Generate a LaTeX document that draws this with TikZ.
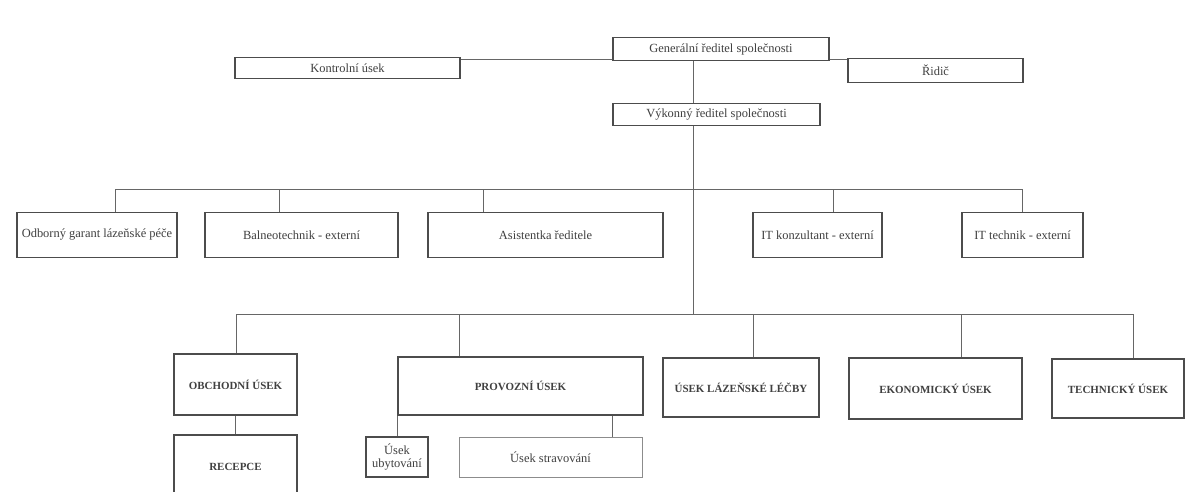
\documentclass[tikz,border=0pt]{standalone}
\usepackage{fontspec}
\setmainfont{Liberation Serif}
\begin{document}
\begin{tikzpicture}[x=1bp,y=-1bp,
  box/.style={draw=black!70, line width=1.6bp, rectangle, inner sep=0pt, align=center,
    text=black!75, font=\fontsize{12.5}{13}\selectfont},
  bigbox/.style={box, line width=2bp, font=\fontsize{11}{13}\selectfont\bfseries},
  thinbox/.style={box, draw=black!45, line width=0.9bp},
  conn/.style={draw=black!60, line width=1bp}]
\useasboundingbox[fill=white] (0,0) rectangle (1187,492);
\begin{scope}
\clip (0,0) rectangle (1187,492);
% top level
\node[box, minimum width=216bp, minimum height=23bp] (gen) at (721,49) {Generální ředitel společnosti};
\node[box, minimum width=225bp, minimum height=21bp] (kon) at (347.5,68) {Kontrolní úsek};
\node[box, minimum width=175bp, minimum height=24bp] (rid) at (935.5,70.5) {Řidič};
\node[box, minimum width=207bp, minimum height=22bp] (vyk) at (716.5,114.5) {Výkonný ředitel společnosti};
\coordinate (h) at (0,59.5);
\draw[conn] (h -| kon.east) -- (h -| gen.west);
\draw[conn] (h -| gen.east) -- (h -| rid.west);
\draw[conn] (gen.south -| 693,0) -- (vyk.north -| 693,0);
% staff row
\node[box, minimum width=160bp, minimum height=45bp] (odb) at (97,235) {Odborný garant lázeňské péče};
\node[box, minimum width=193bp, minimum height=45bp] (bal) at (301.5,235) {Balneotechnik - externí};
\node[box, minimum width=235bp, minimum height=45bp] (asi) at (545.5,235) {Asistentka ředitele};
\node[box, minimum width=129bp, minimum height=45bp] (itk) at (817.5,235) {IT konzultant - externí};
\node[box, minimum width=121bp, minimum height=45bp] (itt) at (1022.5,235) {IT technik - externí};
\draw[conn] (vyk.south -| 693,0) -- (693,315);
\draw[conn] (odb.north -| 115,0) -- (115,190) -- (1022,190) -- (itt.north -| 1022,0);
\draw[conn] (279,190) -- (bal.north -| 279,0);
\draw[conn] (483,190) -- (asi.north -| 483,0);
\draw[conn] (833,190) -- (itk.north -| 833,0);
% departments
\node[bigbox, minimum width=123bp, minimum height=61bp] (obc) at (235.5,384.5) {OBCHODNÍ ÚSEK};
\node[bigbox, minimum width=123bp, minimum height=64bp] (rec) at (235.5,467) {RECEPCE};
\node[bigbox, minimum width=245bp, minimum height=58bp] (pro) at (520.5,386) {PROVOZNÍ ÚSEK};
\node[box, minimum width=62bp, minimum height=40bp] (uby) at (397,457) {Úsek\\ubytování};
\node[thinbox, minimum width=183bp, minimum height=40bp] (str) at (550.5,457) {Úsek stravování};
\node[bigbox, minimum width=156bp, minimum height=59bp] (laz) at (741,387.5) {ÚSEK LÁZEŇSKÉ LÉČBY};
\node[bigbox, minimum width=173bp, minimum height=61bp] (eko) at (935.5,388.5) {EKONOMICKÝ ÚSEK};
\node[bigbox, minimum width=132bp, minimum height=59bp] (tec) at (1118,388.5) {TECHNICKÝ ÚSEK};
\draw[conn] (obc.north -| 236,0) -- (236,315) -- (1133,315) -- (tec.north -| 1133,0);
\draw[conn] (459,315) -- (pro.north -| 459,0);
\draw[conn] (753,315) -- (laz.north -| 753,0);
\draw[conn] (961,315) -- (eko.north -| 961,0);
\draw[conn] (obc.south) -- (rec.north);
\draw[conn] (pro.south west) -- (pro.south west |- uby.north);
\draw[conn] (pro.south -| 612,0) -- (str.north -| 612,0);
\end{scope}
\end{tikzpicture}
\end{document}
